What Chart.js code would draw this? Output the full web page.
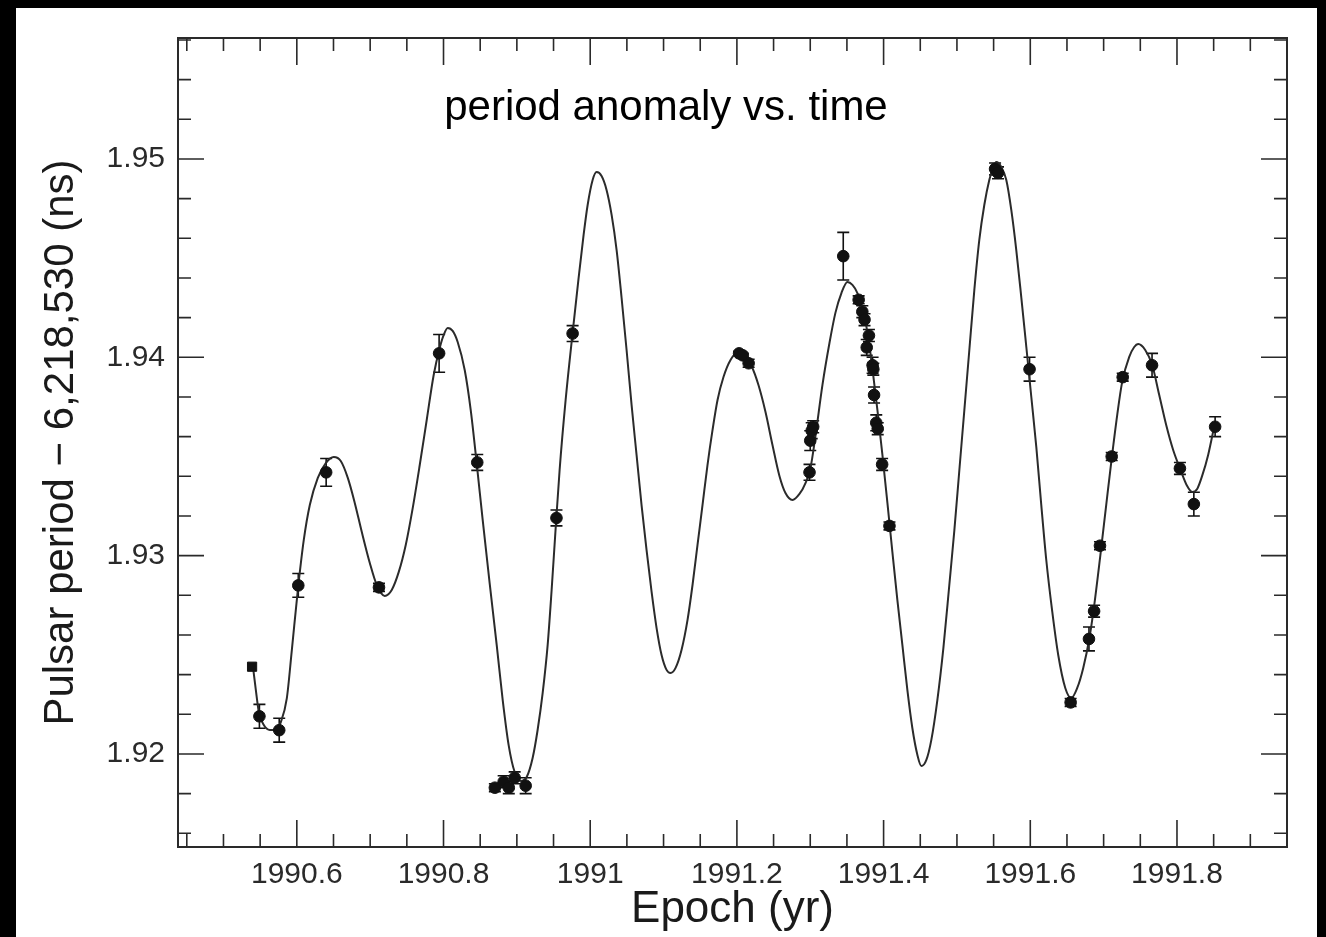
<!DOCTYPE html>
<html>
<head>
<meta charset="utf-8">
<script src="https://cdn.jsdelivr.net/npm/chart.js@4"></script>
<style>
  html, body { margin: 0; padding: 0; background: #000; }
  #wrap { position: absolute; left: 0; top: 0; width: 1326px; height: 937px; }
</style>
</head>
<body>
<div id="wrap"><canvas id="c" width="1326" height="937"></canvas></div>
<script>
// ---- Data ----
const titleText = 'period anomaly vs. time';
const xTitle = 'Epoch (yr)';
const yTitle = 'Pulsar period \u2212 6,218,530 (ns)';

const xTickValues = [1990.6, 1990.8, 1991.0, 1991.2, 1991.4, 1991.6, 1991.8];
const xTickLabels = ['1990.6', '1990.8', '1991', '1991.2', '1991.4', '1991.6', '1991.8'];
const yTickValues = [1.92, 1.93, 1.94, 1.95];
const yTickLabels = ['1.92', '1.93', '1.94', '1.95'];
const xMinorStep = 0.05;
const yMinorStep = 0.002;
const xMin = 1990.438, xMax = 1991.95;
const yMin = 1.91531, yMax = 1.9561;

// measured points (epoch, period anomaly, error half-width, marker)
const pointX = [1990.539, 1990.549, 1990.576, 1990.602, 1990.640, 1990.712, 1990.794, 1990.846,
  1990.870, 1990.882, 1990.889, 1990.897, 1990.912, 1990.954, 1990.976,
  1991.203, 1991.208, 1991.216, 1991.299, 1991.300, 1991.302, 1991.304, 1991.345,
  1991.366, 1991.371, 1991.374, 1991.377, 1991.380, 1991.385, 1991.386, 1991.387, 1991.390, 1991.392, 1991.398, 1991.408,
  1991.552, 1991.556, 1991.599, 1991.655, 1991.680, 1991.687, 1991.695, 1991.711, 1991.726, 1991.766, 1991.804, 1991.823, 1991.852];
const pointY = [1.9244, 1.9219, 1.9212, 1.9285, 1.9342, 1.9284, 1.9402, 1.9347,
  1.9183, 1.9186, 1.9183, 1.9188, 1.9184, 1.9319, 1.9412,
  1.9402, 1.9401, 1.9397, 1.9342, 1.9358, 1.9363, 1.9365, 1.9451,
  1.9429, 1.9423, 1.9419, 1.9405, 1.9411, 1.9396, 1.9394, 1.9381, 1.9367, 1.9364, 1.9346, 1.9315,
  1.9495, 1.9493, 1.9394, 1.9226, 1.9258, 1.9272, 1.9305, 1.9350, 1.9390, 1.9396, 1.9344, 1.9326, 1.9365];
const pointErr = [0, 0.0006, 0.0006, 0.0006, 0.0007, 0.0002, 0.00095, 0.0004,
  0.0002, 0.0003, 0.0003, 0.0003, 0.0004, 0.0004, 0.0004,
  0.0001, 0.0001, 0.0002, 0.0004, 0.0005, 0.0004, 0.0003, 0.0012,
  0.0002, 0.0003, 0.0003, 0.0004, 0.0003, 0.0004, 0.0003, 0.0004, 0.0004, 0.0003, 0.0003, 0.0002,
  0.0003, 0.0003, 0.0006, 0.0002, 0.0006, 0.0003, 0.0002, 0.0002, 0.0002, 0.0006, 0.0003, 0.0006, 0.0005];
const pointShape = ['rect'];

// model curve
const curveX = [
  1990.5401, 1990.5441, 1990.5482, 1990.5550, 1990.5632, 1990.5714, 1990.5782, 1990.5864, 1990.5932, 1990.6014,
  1990.6095, 1990.6177, 1990.6286, 1990.6395, 1990.6504,
  1990.6599, 1990.6695, 1990.6790, 1990.6886, 1990.6995, 1990.7090, 1990.7199, 1990.7294, 1990.7390, 1990.7485,
  1990.7580, 1990.7676, 1990.7771, 1990.7866, 1990.7948, 1990.8003, 1990.8057,
  1990.8125, 1990.8193, 1990.8289, 1990.8371, 1990.8452, 1990.8534, 1990.8629, 1990.8725, 1990.8807, 1990.8888,
  1990.8970, 1990.9052, 1990.9134, 1990.9215, 1990.9283, 1990.9352, 1990.9420, 1990.9474, 1990.9529, 1990.9583,
  1990.9665, 1990.9760, 1990.9842, 1990.9910, 1990.9965, 1991.0033, 1991.0087,
  1991.0155, 1991.0223, 1991.0292, 1991.0360, 1991.0428, 1991.0496, 1991.0564, 1991.0632, 1991.0700, 1991.0768,
  1991.0837, 1991.0905, 1991.0973, 1991.1041, 1991.1095, 1991.1164, 1991.1245, 1991.1327, 1991.1395, 1991.1463,
  1991.1531, 1991.1599, 1991.1668, 1991.1736, 1991.1817, 1991.1913, 1991.2008,
  1991.2104, 1991.2199, 1991.2294, 1991.2390, 1991.2485, 1991.2580, 1991.2662, 1991.2758, 1991.2853, 1991.2935,
  1991.3003, 1991.3071, 1991.3166, 1991.3262, 1991.3343, 1991.3425, 1991.3507,
  1991.3575, 1991.3643, 1991.3711, 1991.3779, 1991.3847, 1991.3916, 1991.3984, 1991.4052, 1991.4120, 1991.4188,
  1991.4256, 1991.4324, 1991.4392, 1991.4461, 1991.4515, 1991.4583, 1991.4651, 1991.4733, 1991.4815, 1991.4896,
  1991.4965, 1991.5033, 1991.5101, 1991.5169, 1991.5237, 1991.5305, 1991.5373, 1991.5441, 1991.5496, 1991.5537,
  1991.5605, 1991.5673, 1991.5741, 1991.5809, 1991.5877, 1991.5946, 1991.6014, 1991.6082, 1991.6150, 1991.6218,
  1991.6300, 1991.6381, 1991.6477, 1991.6559, 1991.6640, 1991.6722, 1991.6804, 1991.6872, 1991.6954, 1991.7035,
  1991.7104, 1991.7185, 1991.7253, 1991.7349, 1991.7417, 1991.7471,
  1991.7567, 1991.7662, 1991.7758, 1991.7853, 1991.7948, 1991.8044, 1991.8139, 1991.8207, 1991.8275, 1991.8343,
  1991.8425, 1991.8520];
const curveY = [
  1.92444, 1.92323, 1.92212, 1.92146, 1.92121, 1.92121, 1.92161, 1.92282, 1.92524, 1.92827,
  1.93079, 1.93255, 1.93392, 1.93467, 1.93497,
  1.93477, 1.93392, 1.93266, 1.93119, 1.92963, 1.92852, 1.92797, 1.92827, 1.92918, 1.93054,
  1.93240, 1.93457, 1.93684, 1.93911, 1.94047, 1.94113, 1.94148,
  1.94133, 1.94077, 1.93936, 1.93734, 1.93467, 1.93180, 1.92862, 1.92550, 1.92272, 1.92045,
  1.91909, 1.91864, 1.91884, 1.91980, 1.92121, 1.92308, 1.92550, 1.92827, 1.93139, 1.93432,
  1.93785, 1.94123, 1.94400, 1.94617, 1.94768, 1.94894, 1.94934,
  1.94914, 1.94844, 1.94718, 1.94541, 1.94299, 1.94037, 1.93760, 1.93508, 1.93255, 1.93029,
  1.92817, 1.92635, 1.92499, 1.92424, 1.92408, 1.92434, 1.92524, 1.92676, 1.92852, 1.93054,
  1.93255, 1.93457, 1.93634, 1.93785, 1.93901, 1.93987, 1.94022,
  1.94007, 1.93956, 1.93860, 1.93724, 1.93558, 1.93402, 1.93316, 1.93281, 1.93311, 1.93366,
  1.93442, 1.93603, 1.93860, 1.94072, 1.94224, 1.94324, 1.94380,
  1.94365, 1.94324, 1.94249, 1.94128, 1.93946, 1.93734, 1.93508, 1.93266, 1.93018, 1.92776,
  1.92550, 1.92323, 1.92131, 1.91995, 1.91939, 1.91970, 1.92071, 1.92272, 1.92534, 1.92852,
  1.93129, 1.93432, 1.93734, 1.94037, 1.94339, 1.94592, 1.94768, 1.94894, 1.94960, 1.94985,
  1.94960, 1.94894, 1.94743, 1.94541, 1.94304, 1.94052, 1.93800, 1.93548, 1.93255, 1.92978,
  1.92716, 1.92499, 1.92333, 1.92282, 1.92333, 1.92434, 1.92580, 1.92751, 1.92998, 1.93255,
  1.93472, 1.93709, 1.93876, 1.94002, 1.94052, 1.94067,
  1.94037, 1.93961, 1.93810, 1.93659, 1.93533, 1.93437, 1.93351, 1.93321, 1.93336, 1.93402,
  1.93508, 1.93674];

// ---- build datasets ----
const pointData = pointX.map((x, i) => ({ x: x, y: pointY[i] }));
const curveData = curveX.map((x, i) => ({ x: x, y: curveY[i] }));
const shapes = pointX.map((x, i) => pointShape[i] || 'circle');
const radii = pointX.map((x, i) => (pointShape[i] === 'rect' ? 6.5 : 5.8));

const FONT = '"Liberation Sans", Arial, Helvetica, sans-serif';

const bgPlugin = {
  id: 'bg',
  beforeDraw(chart) {
    const c = chart.ctx;
    c.save();
    c.fillStyle = '#000';
    c.fillRect(0, 0, chart.width, chart.height);
    c.fillStyle = '#fff';
    c.fillRect(16, 8, 1301, 929);
    c.restore();
  }
};

const framePlugin = {
  id: 'frame',
  beforeDatasetsDraw(chart) {
    const c = chart.ctx;
    const xs = chart.scales.x, ys = chart.scales.y;
    const a = chart.chartArea;
    c.save();
    c.strokeStyle = '#2a2a2a';
    c.lineWidth = 2;
    c.strokeRect(a.left, a.top, a.right - a.left, a.bottom - a.top);
    c.lineWidth = 1.6;
    c.beginPath();
    const nx = Math.round((xMax - 1990.45) / xMinorStep);
    for (let k = 0; k <= nx; k++) {
      const v = 1990.45 + k * xMinorStep;
      const major = xTickValues.some(t => Math.abs(t - v) < 1e-6);
      const len = major ? 27 : 13;
      const px = xs.getPixelForValue(v);
      if (px < a.left + 1 || px > a.right - 1) continue;
      c.moveTo(px, a.bottom); c.lineTo(px, a.bottom - len);
      c.moveTo(px, a.top); c.lineTo(px, a.top + len);
    }
    const ny = Math.round((yMax - 1.916) / yMinorStep);
    for (let k = 0; k <= ny; k++) {
      const v = 1.916 + k * yMinorStep;
      const major = yTickValues.some(t => Math.abs(t - v) < 1e-7);
      const len = major ? 26 : 13;
      const py = ys.getPixelForValue(v);
      if (py < a.top + 1 || py > a.bottom - 1) continue;
      c.moveTo(a.left, py); c.lineTo(a.left + len, py);
      c.moveTo(a.right, py); c.lineTo(a.right - len, py);
    }
    c.stroke();

    // error bars
    c.strokeStyle = '#111';
    c.lineWidth = 1.6;
    c.beginPath();
    pointX.forEach((x, i) => {
      const e = pointErr[i];
      if (!e) return;
      const px = xs.getPixelForValue(x);
      const y1 = ys.getPixelForValue(pointY[i] + e);
      const y2 = ys.getPixelForValue(pointY[i] - e);
      c.moveTo(px, y1); c.lineTo(px, y2);
      c.moveTo(px - 6, y1); c.lineTo(px + 6, y1);
      c.moveTo(px - 6, y2); c.lineTo(px + 6, y2);
    });
    c.stroke();
    c.restore();
  },
  afterDraw(chart) {
    const c = chart.ctx;
    const a = chart.chartArea;
    c.save();
    c.fillStyle = '#000';
    c.font = '42px ' + FONT;
    c.textAlign = 'center';
    c.textBaseline = 'alphabetic';
    c.fillText(titleText, a.left + 0.44 * (a.right - a.left), a.top + 82);
    c.restore();
  }
};

new Chart(document.getElementById('c'), {
  type: 'line',
  data: {
    datasets: [
      {
        label: 'measurements',
        data: pointData,
        showLine: false,
        pointStyle: shapes,
        pointRadius: radii,
        pointBackgroundColor: '#111',
        pointBorderColor: '#111',
        pointBorderWidth: 1
      },
      {
        label: 'model',
        data: curveData,
        borderColor: '#2b2b2b',
        borderWidth: 2,
        pointRadius: 0,
        fill: false,
        cubicInterpolationMode: 'monotone'
      }
    ]
  },
  options: {
    responsive: false,
    animation: false,
    devicePixelRatio: 1,
    layout: { padding: { left: 0, right: 39, top: 38, bottom: 0 } },
    plugins: { legend: { display: false }, tooltip: { enabled: false }, title: { display: false } },
    scales: {
      x: {
        type: 'linear',
        position: 'bottom',
        min: xMin, max: xMax,
        grid: { display: false, drawTicks: false },
        border: { display: false },
        afterBuildTicks(scale) { scale.ticks = xTickValues.map(v => ({ value: v })); },
        afterFit(scale) { scale.height = 90; },
        ticks: {
          autoSkip: false, maxRotation: 0, minRotation: 0,
          padding: 10,
          color: '#2a2a2a',
          font: { family: FONT, size: 30 },
          callback(v) {
            const i = xTickValues.findIndex(t => Math.abs(t - v) < 1e-6);
            return i >= 0 ? xTickLabels[i] : '';
          }
        },
        title: {
          display: true, text: xTitle, color: '#1a1a1a',
          font: { family: FONT, size: 44 },
          padding: { top: 0, bottom: 1 }
        }
      },
      y: {
        type: 'linear',
        position: 'left',
        min: yMin, max: yMax,
        grid: { display: false, drawTicks: false },
        border: { display: false },
        afterBuildTicks(scale) { scale.ticks = yTickValues.map(v => ({ value: v })); },
        afterFit(scale) { scale.width = 178; },
        ticks: {
          padding: 13,
          color: '#2a2a2a',
          font: { family: FONT, size: 30 },
          callback(v) {
            const i = yTickValues.findIndex(t => Math.abs(t - v) < 1e-7);
            return i >= 0 ? yTickLabels[i] : '';
          }
        },
        title: {
          display: true, text: yTitle, color: '#1a1a1a',
          font: { family: FONT, size: 42 },
          padding: { top: 36, bottom: 0 }
        }
      }
    }
  },
  plugins: [bgPlugin, framePlugin]
});
</script>
</body>
</html>
